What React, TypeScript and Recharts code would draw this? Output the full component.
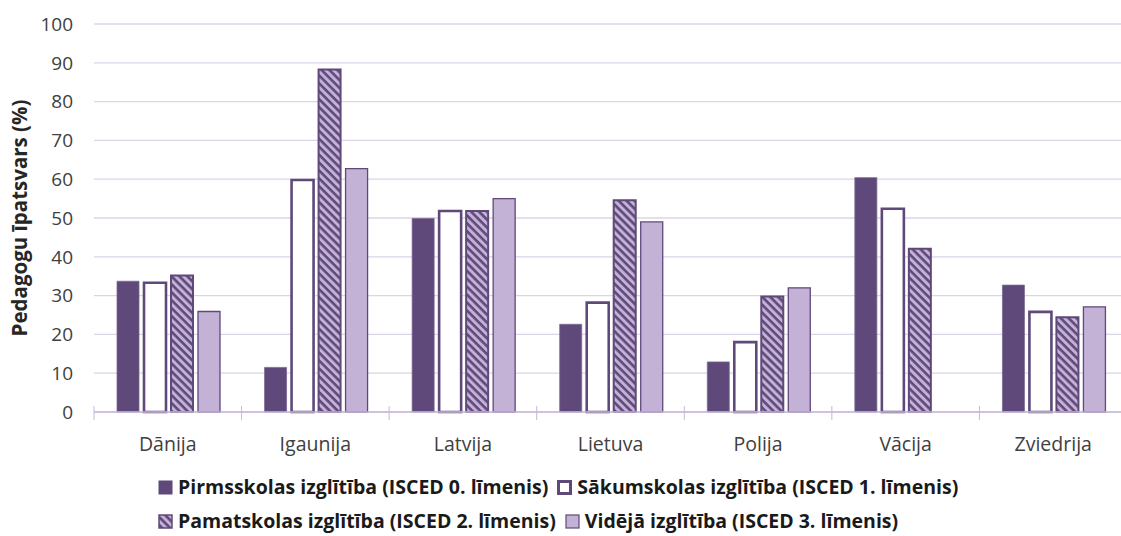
import React from 'react';
import { BarChart, Bar, XAxis, YAxis, CartesianGrid } from 'recharts';

// Pedagogu īpatsvars pa izglītības līmeņiem (%)
const categories = ['Dānija', 'Igaunija', 'Latvija', 'Lietuva', 'Polija', 'Vācija', 'Zviedrija'];
const pirmsskolas = [33.7, 11.5, 49.9, 22.6, 12.9, 60.4, 32.7];
const sakumskolas = [33.3, 59.8, 51.8, 28.2, 18.0, 52.4, 25.8];
const pamatskolas = [35.2, 88.3, 51.8, 54.6, 29.8, 42.1, 24.4];
const videja: (number | null)[] = [25.9, 62.7, 55.0, 49.0, 32.0, null, 27.1];
const yTicks = [0, 10, 20, 30, 40, 50, 60, 70, 80, 90, 100];

const seriesNames = [
  'Pirmsskolas izglītība (ISCED 0. līmenis)',
  'Sākumskolas izglītība (ISCED 1. līmenis)',
  'Pamatskolas izglītība (ISCED 2. līmenis)',
  'Vidējā izglītība (ISCED 3. līmenis)',
];

const data = categories.map((name, i) => ({
  name,
  pirmsskolas: pirmsskolas[i],
  sakumskolas: sakumskolas[i],
  pamatskolas: pamatskolas[i],
  videja: videja[i],
}));

const DARK = '#5f497a';
const LIGHT = '#c3b2d6';
const GRID = '#dcd3e8';
const AXIS = '#c6b8da';
const TEXT = '#404040';
const FONT = '"Open Sans", sans-serif';

const CHART_W = 1130;
const CHART_H = 536;
const LEFT = 94;
const RIGHT = 3;
const STEP = (CHART_W - LEFT - RIGHT) / categories.length;

function XTick(props: any) {
  const { x, y, payload } = props;
  const last = payload.index === categories.length - 1;
  return (
    <g>
      <line x1={x - STEP / 2} x2={x - STEP / 2} y1={y - 6} y2={y + 8} stroke={AXIS} />
      {last && <line x1={x + STEP / 2} x2={x + STEP / 2} y1={y - 6} y2={y + 8} stroke={AXIS} />}
      <text x={x} y={y + 39} textAnchor="middle" fill={TEXT} fontSize={19.5} fontFamily={FONT}>
        {payload.value}
      </text>
    </g>
  );
}

function YTitle(props: any) {
  const { viewBox } = props;
  const cy = viewBox.y + viewBox.height / 2;
  return (
    <text
      x={27}
      y={cy}
      transform={`rotate(-90, 27, ${cy})`}
      textAnchor="middle"
      fill="#262626"
      fontSize={20.5}
      fontWeight={700}
      fontFamily={FONT}
    >
      Pedagogu īpatsvars (%)
    </text>
  );
}

function LegendIcon({ kind }: { kind: number }) {
  return (
    <svg width={15} height={15} style={{ marginRight: 5, flex: 'none' }}>
      <defs>
        <pattern id="hatchIcon" patternUnits="userSpaceOnUse" width={5.6} height={5.6} patternTransform="rotate(45)">
          <rect width={5.6} height={5.6} fill={LIGHT} />
          <rect width={5.6} height={2.6} fill={DARK} />
        </pattern>
      </defs>
      {kind === 0 && <rect x={0.5} y={0.5} width={14} height={14} fill={DARK} />}
      {kind === 1 && <rect x={1.5} y={1.5} width={12} height={12} fill="#fff" stroke={DARK} strokeWidth={3} />}
      {kind === 2 && <rect x={1} y={1} width={13} height={13} fill="url(#hatchIcon)" stroke={DARK} strokeWidth={1.5} />}
      {kind === 3 && <rect x={1} y={1} width={13} height={13} fill={LIGHT} stroke={DARK} strokeWidth={1.2} />}
    </svg>
  );
}

function LegendItem({ kind }: { kind: number }) {
  return (
    <div style={{ display: 'flex', alignItems: 'center', marginRight: 9 }}>
      <LegendIcon kind={kind} />
      <span>{seriesNames[kind]}</span>
    </div>
  );
}

export default function App() {
  return (
    <div
      style={{
        position: 'fixed',
        left: 0,
        top: 0,
        width: 1121,
        height: CHART_H,
        overflow: 'hidden',
        background: '#fff',
      }}
    >
      <BarChart
        width={CHART_W}
        height={CHART_H}
        data={data}
        margin={{ top: 24, right: RIGHT, left: 0, bottom: 84 }}
        barCategoryGap={23}
        barGap={5}
      >
        <defs>
          <pattern id="hatch" patternUnits="userSpaceOnUse" width={5.6} height={5.6} patternTransform="rotate(45)">
            <rect width={5.6} height={5.6} fill={LIGHT} />
            <rect width={5.6} height={2.6} fill={DARK} />
          </pattern>
        </defs>
        <CartesianGrid vertical={false} stroke={GRID} strokeWidth={1.3} />
        <XAxis
          dataKey="name"
          height={40}
          axisLine={{ stroke: AXIS, strokeWidth: 1.5 }}
          tickLine={false}
          tickSize={0}
          tickMargin={0}
          tick={<XTick />}
          interval={0}
        />
        <YAxis
          width={LEFT}
          domain={[0, 100]}
          ticks={yTicks}
          axisLine={false}
          tickLine={false}
          tickSize={6}
          tickMargin={15}
          tick={{ fill: TEXT, fontSize: 19, fontFamily: FONT }}
          label={<YTitle />}
        />
        <Bar dataKey="pirmsskolas" fill={DARK} stroke="#7a6893" strokeWidth={0.8} isAnimationActive={false} />
        <Bar dataKey="sakumskolas" fill="#ffffff" stroke={DARK} strokeWidth={2.6} isAnimationActive={false} />
        <Bar dataKey="pamatskolas" fill="url(#hatch)" stroke={DARK} strokeWidth={2} isAnimationActive={false} />
        <Bar dataKey="videja" fill={LIGHT} stroke={DARK} strokeWidth={1.3} isAnimationActive={false} />
      </BarChart>
      <div
        style={{
          position: 'absolute',
          left: 158,
          top: 476,
          fontFamily: FONT,
          fontWeight: 700,
          fontSize: 19.5,
          color: '#1a1a1a',
          lineHeight: '22px',
        }}
      >
        <div style={{ display: 'flex', whiteSpace: 'nowrap', height: 22 }}>
          <LegendItem kind={0} />
          <LegendItem kind={1} />
        </div>
        <div style={{ display: 'flex', whiteSpace: 'nowrap', height: 22, marginTop: 12 }}>
          <LegendItem kind={2} />
          <LegendItem kind={3} />
        </div>
      </div>
    </div>
  );
}
